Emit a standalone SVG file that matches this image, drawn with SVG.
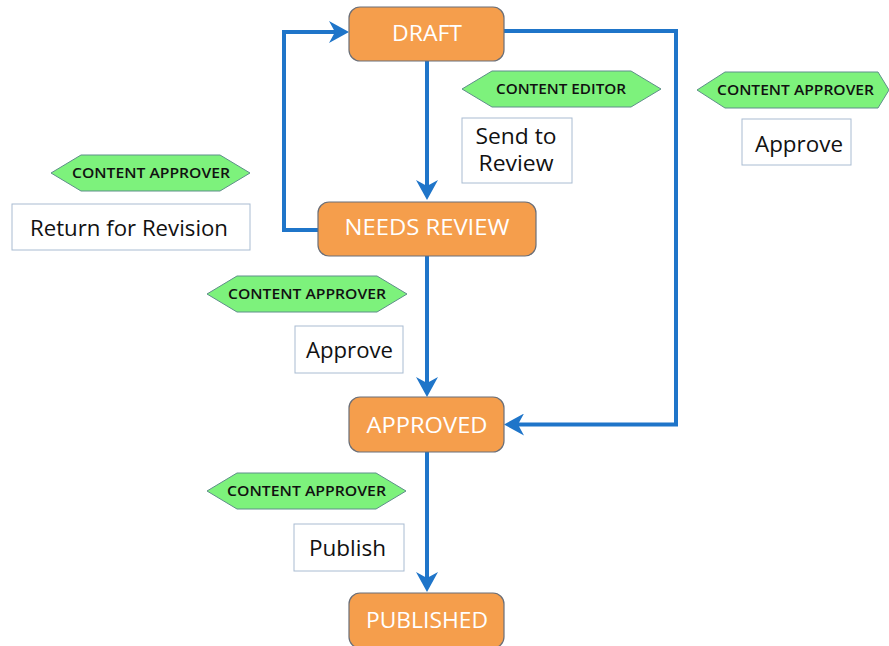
<svg xmlns="http://www.w3.org/2000/svg" width="889" height="646" viewBox="0 0 889 646">
<style>
.state rect{fill:#F59E4C;stroke:#6b6f78;stroke-width:1.2}
.state text{fill:#ffffff;font-family:"Open Sans","Liberation Sans",sans-serif;font-size:21px;text-anchor:middle}
.role polygon{fill:#7DF27C;stroke:#5f8f8a;stroke-width:1}
.role text{fill:#111;font-family:"Open Sans","Liberation Sans",sans-serif;font-size:14px;font-weight:600;text-anchor:middle}
.action rect{fill:#fff;stroke:#a9bcd2;stroke-width:1}
.action text{fill:#111;font-family:"Open Sans","Liberation Sans",sans-serif;font-size:21px;text-anchor:middle}
.conn path{fill:none;stroke:#1F75C9;stroke-width:4;marker-end:url(#arr)}
</style>
<defs>
<marker id="arr" markerUnits="userSpaceOnUse" viewBox="0 0 20 22" markerWidth="20" markerHeight="22" refX="12" refY="11" orient="auto">
<path d="M0,0 L20,11 L0,22 L6,11 Z" fill="#1F75C9"/>
</marker>
</defs>
<rect width="889" height="646" fill="#fff"/>
<g id="connectors" class="conn">
<path d="M427,61 V192"/>
<path d="M427,256 V389"/>
<path d="M427,452 V584"/>
<path d="M318,230 H284 V32 H341"/>
<path d="M504,31 H676 V424.5 H512"/>
</g>
<g id="draft" class="state"><rect x="349" y="7" width="155" height="54" rx="11"/><text x="427" y="41" textLength="70" lengthAdjust="spacingAndGlyphs">DRAFT</text></g>
<g id="needs-review" class="state"><rect x="318" y="202" width="218" height="54" rx="11"/><text x="427" y="235" textLength="165" lengthAdjust="spacingAndGlyphs">NEEDS REVIEW</text></g>
<g id="approved" class="state"><rect x="349" y="397" width="155" height="55" rx="11"/><text x="427" y="433" textLength="121" lengthAdjust="spacingAndGlyphs">APPROVED</text></g>
<g id="published" class="state"><rect x="349" y="593" width="155" height="55" rx="11"/><text x="427" y="628" textLength="122" lengthAdjust="spacingAndGlyphs">PUBLISHED</text></g>
<g id="role-editor" class="role"><polygon points="462,89 492,71 631,71 661,89 631,107 492,107"/><text x="561" y="94" textLength="130" lengthAdjust="spacingAndGlyphs">CONTENT EDITOR</text></g>
<g id="action-send" class="action"><rect x="462" y="118" width="110" height="65"/><text x="516" y="144" textLength="81" lengthAdjust="spacingAndGlyphs">Send to</text><text x="516" y="171" textLength="75" lengthAdjust="spacingAndGlyphs">Review</text></g>
<g id="role-approver-right" class="role"><polygon points="697,90 725,72 878,72 889,90 878,108 725,108"/><text x="795.5" y="95" textLength="157" lengthAdjust="spacingAndGlyphs">CONTENT APPROVER</text></g>
<g id="action-approve-right" class="action"><rect x="742" y="119" width="109" height="46"/><text x="799" y="152" textLength="88" lengthAdjust="spacingAndGlyphs">Approve</text></g>
<g id="role-approver-left" class="role"><polygon points="51,173 81,155 220,155 250,173 220,191 81,191"/><text x="151" y="178" textLength="158" lengthAdjust="spacingAndGlyphs">CONTENT APPROVER</text></g>
<g id="action-return" class="action"><rect x="12" y="204" width="238" height="46"/><text x="129" y="236" textLength="198" lengthAdjust="spacingAndGlyphs">Return for Revision</text></g>
<g id="role-approver-mid" class="role"><polygon points="207,294 237,276 377,276 407,294 377,312 237,312"/><text x="307" y="299" textLength="158" lengthAdjust="spacingAndGlyphs">CONTENT APPROVER</text></g>
<g id="action-approve-mid" class="action"><rect x="295" y="326" width="108" height="47"/><text x="349.5" y="358" textLength="87" lengthAdjust="spacingAndGlyphs">Approve</text></g>
<g id="role-approver-bottom" class="role"><polygon points="207,491 237,473 376,473 406,491 376,509 237,509"/><text x="306.5" y="496" textLength="159" lengthAdjust="spacingAndGlyphs">CONTENT APPROVER</text></g>
<g id="action-publish" class="action"><rect x="294" y="524" width="110" height="47"/><text x="347.5" y="556" textLength="77" lengthAdjust="spacingAndGlyphs">Publish</text></g>
</svg>
